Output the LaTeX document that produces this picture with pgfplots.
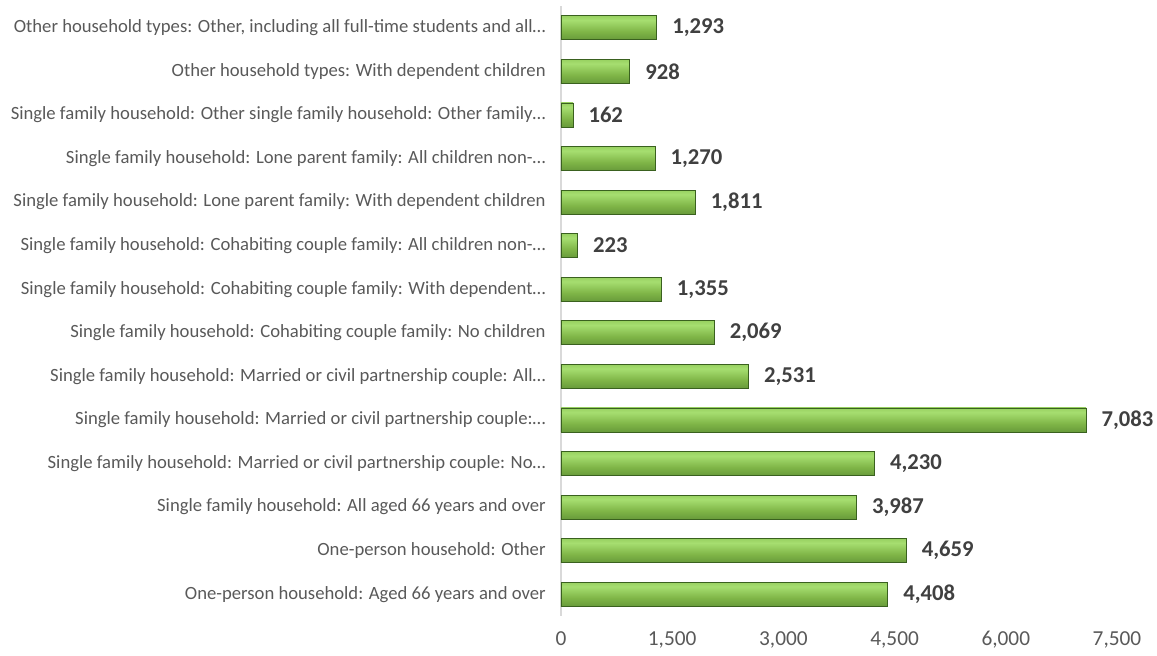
\documentclass[border=0pt]{standalone}
\usepackage{pgfplots}
\pgfplotsset{compat=1.18}
\usepackage{fontspec}
\setmainfont{Carlito}
\definecolor{labgray}{HTML}{595959}
\definecolor{valgray}{HTML}{404040}
\definecolor{axgray}{HTML}{D9D9D9}
\definecolor{gA}{HTML}{3E6620}
\definecolor{gB}{HTML}{5A8B33}
\definecolor{gC}{HTML}{7FB547}
\definecolor{gD}{HTML}{A6DE70}
\definecolor{gE}{HTML}{8AC452}
\definecolor{gF}{HTML}{6A9E38}
\definecolor{gEdge}{HTML}{3A611F}
\pgfdeclareverticalshading{barshade}{100bp}{color(0bp)=(gA); color(15bp)=(gB); color(42bp)=(gC); color(66bp)=(gD); color(84bp)=(gE); color(100bp)=(gF)}
\pgfplotsset{gbar/.style={xbar, shading=barshade, draw=gEdge, line width=0.6pt}}
\begin{document}
\begin{tikzpicture}
\path[use as bounding box] (-420.75pt,-30pt) rectangle (447pt,462pt);
\begin{axis}[
  at={(0,0)}, anchor=south west,
  scale only axis, width=417pt, height=457.5pt,
  xbar, bar width=18pt, bar shift=0pt,
  xmin=0, xmax=7500, ymin=-0.5, ymax=13.5,
  xtick={0,1500,3000,4500,6000,7500},
  ytick={0,...,13},
  yticklabels={
    {One-person household: Aged 66 years and over},
    {One-person household: Other},
    {Single family household: All aged 66 years and over},
    {Single family household: Married or civil partnership couple: No…},
    {Single family household: Married or civil partnership couple:…},
    {Single family household: Married or civil partnership couple: All…},
    {Single family household: Cohabiting couple family: No children},
    {Single family household: Cohabiting couple family: With dependent…},
    {Single family household: Cohabiting couple family: All children non-…},
    {Single family household: Lone parent family: With dependent children},
    {Single family household: Lone parent family: All children non-…},
    {Single family household: Other single family household: Other family…},
    {Other household types: With dependent children},
    {Other household types: Other, including all full-time students and all…}},
  major tick length=0pt,
  axis x line*=bottom,
  x axis line style={draw=none},
  axis y line*=left,
  y axis line style={axgray, line width=1pt, -},
  xticklabel style={font=\fontsize{16}{18}\selectfont, text=labgray, yshift=-8pt},
  yticklabel style={font=\fontsize{14}{16}\selectfont, text=labgray, xshift=-8pt},
  /pgf/number format/assume math mode=true,
  /pgf/number format/.cd, 1000 sep={,}, /pgfplots/.cd,
  nodes near coords,
  every node near coord/.append style={font=\fontsize{17}{20}\bfseries\selectfont,
    text=valgray, anchor=west, xshift=8pt},
  clip=false,
]
\addplot[gbar] coordinates {(4408,0)};
\addplot[gbar] coordinates {(4659,1)};
\addplot[gbar] coordinates {(3987,2)};
\addplot[gbar] coordinates {(4230,3)};
\addplot[gbar] coordinates {(7083,4)};
\addplot[gbar] coordinates {(2531,5)};
\addplot[gbar] coordinates {(2069,6)};
\addplot[gbar] coordinates {(1355,7)};
\addplot[gbar] coordinates {(223,8)};
\addplot[gbar] coordinates {(1811,9)};
\addplot[gbar] coordinates {(1270,10)};
\addplot[gbar] coordinates {(162,11)};
\addplot[gbar] coordinates {(928,12)};
\addplot[gbar] coordinates {(1293,13)};
\end{axis}
\end{tikzpicture}
\end{document}
